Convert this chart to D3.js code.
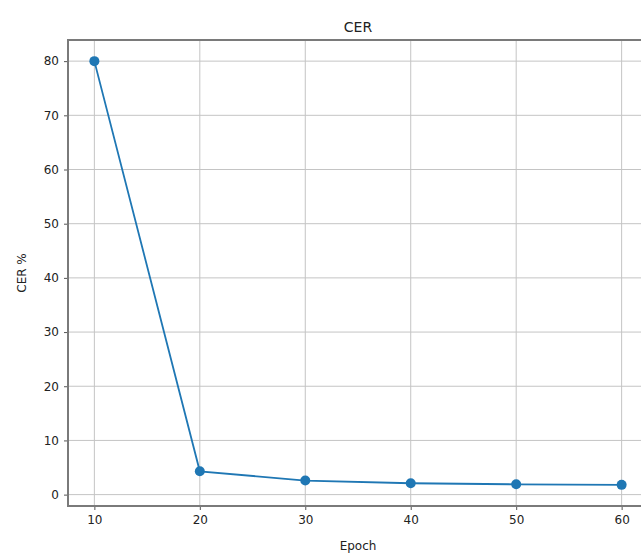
<!DOCTYPE html>
<html>
<head>
<meta charset="utf-8">
<script src="https://cdn.jsdelivr.net/npm/d3@7"></script>
<style>
  body { margin: 0; background: #fff; }
  text { font-family: "DejaVu Sans", sans-serif; fill: #222; }
</style>
</head>
<body>
<div id="chart"></div>
<script>
var epochs = [10, 20, 30, 40, 50, 60];
var cer = [80, 4.3, 2.6, 2.1, 1.9, 1.8];
var xTicks = [10, 20, 30, 40, 50, 60];
var yTicks = [0, 10, 20, 30, 40, 50, 60, 70, 80];

var width = 641, height = 553;
var plotLeft = 68, plotRight = 648, plotTop = 40, plotBottom = 506;

var svg = d3.select('#chart').append('svg')
  .attr('width', width)
  .attr('height', height);

var x = d3.scaleLinear().domain([7.5, 62.5]).range([plotLeft, plotRight]);
var y = d3.scaleLinear().domain([-2.1, 83.9]).range([plotBottom, plotTop]);

// grid
svg.append('g').selectAll('line').data(xTicks).enter().append('line')
  .attr('x1', function(d){ return x(d); })
  .attr('x2', function(d){ return x(d); })
  .attr('y1', plotTop).attr('y2', plotBottom)
  .attr('stroke', '#c4c4c4').attr('stroke-width', 1);

svg.append('g').selectAll('line').data(yTicks).enter().append('line')
  .attr('x1', plotLeft).attr('x2', plotRight)
  .attr('y1', function(d){ return y(d); })
  .attr('y2', function(d){ return y(d); })
  .attr('stroke', '#c4c4c4').attr('stroke-width', 1);

// axes
var xAxis = svg.append('g')
  .attr('transform', 'translate(0,' + plotBottom + ')')
  .call(d3.axisBottom(x).tickValues(xTicks).tickSize(4).tickPadding(5));
var yAxis = svg.append('g')
  .attr('transform', 'translate(' + plotLeft + ',0)')
  .call(d3.axisLeft(y).tickValues(yTicks).tickSize(4).tickPadding(5));

[xAxis, yAxis].forEach(function(a){
  a.select('.domain').remove();
  a.selectAll('line').attr('stroke', '#555');
  a.selectAll('text').style('font-size', '12px').attr('fill', '#222');
});

// frame
svg.append('rect')
  .attr('x', plotLeft).attr('y', plotTop)
  .attr('width', plotRight - plotLeft).attr('height', plotBottom - plotTop)
  .attr('fill', 'none').attr('stroke', '#7a7a7a').attr('stroke-width', 2);

// data line
var line = d3.line()
  .x(function(d, i){ return x(epochs[i]); })
  .y(function(d){ return y(d); });

svg.append('path')
  .datum(cer)
  .attr('d', line)
  .attr('fill', 'none')
  .attr('stroke', '#1f77b4')
  .attr('stroke-width', 1.8);

svg.append('g').selectAll('circle').data(cer).enter().append('circle')
  .attr('cx', function(d, i){ return x(epochs[i]); })
  .attr('cy', function(d){ return y(d); })
  .attr('r', 5)
  .attr('fill', '#1f77b4');

// labels
svg.append('text')
  .attr('x', (plotLeft + plotRight) / 2).attr('y', 32)
  .attr('text-anchor', 'middle')
  .style('font-size', '14px')
  .text('CER');

svg.append('text')
  .attr('x', (plotLeft + plotRight) / 2).attr('y', 550)
  .attr('text-anchor', 'middle')
  .style('font-size', '12px')
  .text('Epoch');

svg.append('text')
  .attr('transform', 'translate(26,' + (plotTop + plotBottom) / 2 + ') rotate(-90)')
  .attr('text-anchor', 'middle')
  .style('font-size', '12px')
  .text('CER %');
</script>
</body>
</html>
